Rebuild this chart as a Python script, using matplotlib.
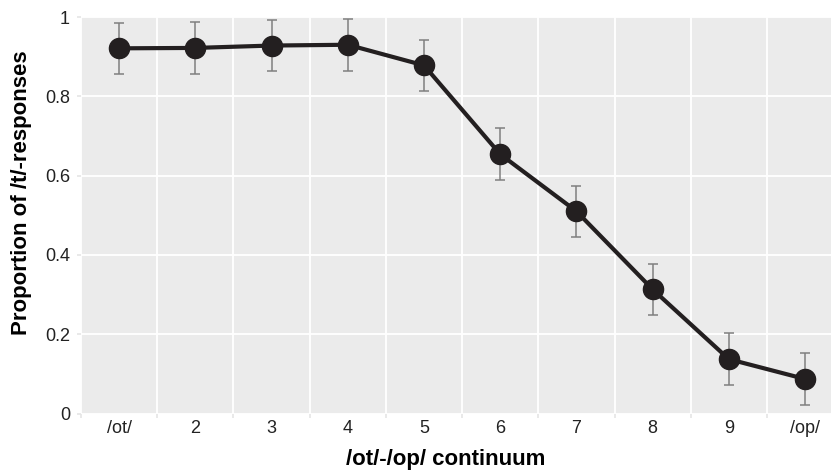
import numpy as np
import matplotlib.pyplot as plt

plt.rcParams['font.family'] = ['Liberation Sans', 'DejaVu Sans']

# Data
steps = ["/ot/", "2", "3", "4", "5", "6", "7", "8", "9", "/op/"]
prop_t = [0.921, 0.922, 0.928, 0.930, 0.878, 0.654, 0.510, 0.313, 0.137, 0.087]
err = [0.065, 0.065, 0.065, 0.065, 0.065, 0.065, 0.065, 0.065, 0.066, 0.065]

x = np.arange(1, len(steps) + 1)

fig = plt.figure(figsize=(8.31, 4.71), dpi=100)
ax = fig.add_axes([81 / 831, (471 - 413.5) / 471, 750 / 831, (413.5 - 17) / 471])

ax.set_facecolor('#EBEBEB')
for s in ax.spines.values():
    s.set_visible(False)

# error bars first, then the line with markers on top
ax.errorbar(x, prop_t, yerr=err, fmt='none', ecolor='#7F7F7F', elinewidth=1.1,
            capsize=3.4, capthick=1.1, zorder=3)
ax.plot(x, prop_t, color='#231F20', linewidth=3.0, marker='o', markersize=14.5,
        zorder=4)

# grid: vertical lines sit between the categories
ax.set_xlim(0.5, 10.34)
ax.set_ylim(0, 1)
ax.set_yticks([0, 0.2, 0.4, 0.6, 0.8, 1.0])
ax.set_yticklabels(["0", "0.2", "0.4", "0.6", "0.8", "1"])
ax.set_xticks(x)
ax.set_xticklabels(steps)
ax.set_xticks(np.arange(0.5, 10.5, 1), minor=True)

ax.grid(True, which='major', axis='y', color='white', linewidth=1.3)
ax.grid(True, which='minor', axis='x', color='white', linewidth=1.3)
ax.set_axisbelow(True)

ax.tick_params(axis='x', which='major', length=0, pad=5, labelsize=13, labelcolor='#222222')
ax.tick_params(axis='x', which='minor', length=3, color='#E5E5E5', width=1.2)
ax.tick_params(axis='y', length=3, color='#E5E5E5', width=1.2, pad=5,
               labelsize=13, labelcolor='#222222')

ax.set_xlabel("/ot/-/op/ continuum", fontsize=16, fontweight='bold')
ax.set_ylabel("Proportion of /t/-responses", fontsize=16, fontweight='bold')
ax.xaxis.set_label_coords(0.486, -0.0895)
ax.yaxis.set_label_coords(-0.065, 0.556)

plt.savefig("out.png", dpi=100)
